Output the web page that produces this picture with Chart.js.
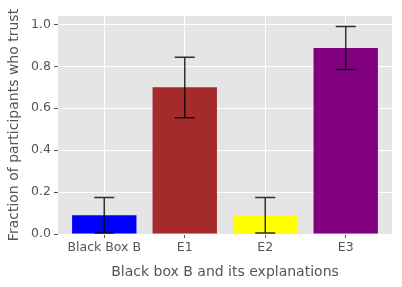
<!DOCTYPE html>
<html>
<head>
<meta charset="utf-8">
<script src="https://cdn.jsdelivr.net/npm/chart.js@4/dist/chart.umd.min.js"></script>
<style>
  html, body { margin: 0; padding: 0; background: #fff; }
  #wrap { width: 402px; height: 287px; }
</style>
</head>
<body>
<div id="wrap"><canvas id="myChart" width="402" height="287"></canvas></div>
<script>
// data
const categories = ['Black Box B', 'E1', 'E2', 'E3'];
const trustValues = [0.09, 0.70, 0.09, 0.887];
const errLow = [0.005, 0.555, 0.005, 0.785];
const errHigh = [0.174, 0.843, 0.174, 0.99];
const barColors = ['blue', 'brown', 'yellow', 'purple'];
const yTicks = [0, 0.2, 0.4, 0.6, 0.8, 1.0];

const font = 'DejaVu Sans';

// grey panel behind the plot
const panelBg = {
  id: 'panelBg',
  beforeDraw(chart) {
    const a = chart.chartArea, ctx = chart.ctx;
    ctx.save();
    ctx.fillStyle = '#E5E5E5';
    ctx.fillRect(a.left, a.top, a.right - a.left, a.bottom - a.top);
    ctx.restore();
  }
};

// error bars with caps
const errorBars = {
  id: 'errorBars',
  afterDatasetsDraw(chart) {
    const ctx = chart.ctx, x = chart.scales.x, y = chart.scales.y;
    ctx.save();
    ctx.strokeStyle = 'rgba(0,0,0,0.8)';
    ctx.lineWidth = 1.5;
    for (let i = 0; i < categories.length; i++) {
      const px = x.getPixelForValue(i);
      const lo = y.getPixelForValue(errLow[i]);
      const hi = y.getPixelForValue(errHigh[i]);
      ctx.beginPath();
      ctx.moveTo(px, lo); ctx.lineTo(px, hi);
      ctx.moveTo(px - 10, lo); ctx.lineTo(px + 10, lo);
      ctx.moveTo(px - 10, hi); ctx.lineTo(px + 10, hi);
      ctx.stroke();
    }
    ctx.restore();
  }
};

const data = {
  datasets: [{
    data: trustValues.map((v, i) => ({ x: i, y: v })),
    backgroundColor: barColors,
    borderWidth: 0,
    categoryPercentage: 1,
    barPercentage: 0.8
  }]
};

const config = {
  type: 'bar',
  data,
  options: {
    responsive: false,
    animation: false,
    layout: { padding: { left: 0, top: 16, right: 10, bottom: 0 } },
    plugins: { legend: { display: false }, tooltip: { enabled: false } },
    scales: {
      x: {
        type: 'linear',
        min: -0.575,
        max: 3.575,
        offset: false,
        afterBuildTicks: s => { s.ticks = categories.map((c, i) => ({ value: i })); },
        afterFit: s => { s.height = 53; },
        grid: { color: '#fff', lineWidth: 1, tickColor: '#555', tickLength: 4, offset: false },
        border: { display: false },
        ticks: {
          color: '#555', padding: 2, maxRotation: 0, autoSkip: false,
          font: { family: font, size: 12.5 },
          callback: v => categories[v]
        },
        title: {
          display: true, text: 'Black box B and its explanations', color: '#555',
          font: { family: font, size: 14 }, padding: { top: 6, bottom: 6 }
        }
      },
      y: {
        min: 0,
        max: 1.04,
        afterBuildTicks: s => { s.ticks = yTicks.map(v => ({ value: v })); },
        afterFit: s => { s.width = 58; },
        grid: { color: '#fff', lineWidth: 1, tickColor: '#555', tickLength: 4 },
        border: { display: false },
        ticks: {
          color: '#555', padding: 3,
          font: { family: font, size: 12.5 },
          callback: v => v.toFixed(1)
        },
        title: {
          display: true, text: 'Fraction of participants who trust', color: '#555',
          font: { family: font, size: 14 }, padding: { top: 6, bottom: 6 }
        }
      }
    }
  },
  plugins: [panelBg, errorBars]
};

const myChart = new Chart(document.getElementById('myChart'), config);
</script>
</body>
</html>
